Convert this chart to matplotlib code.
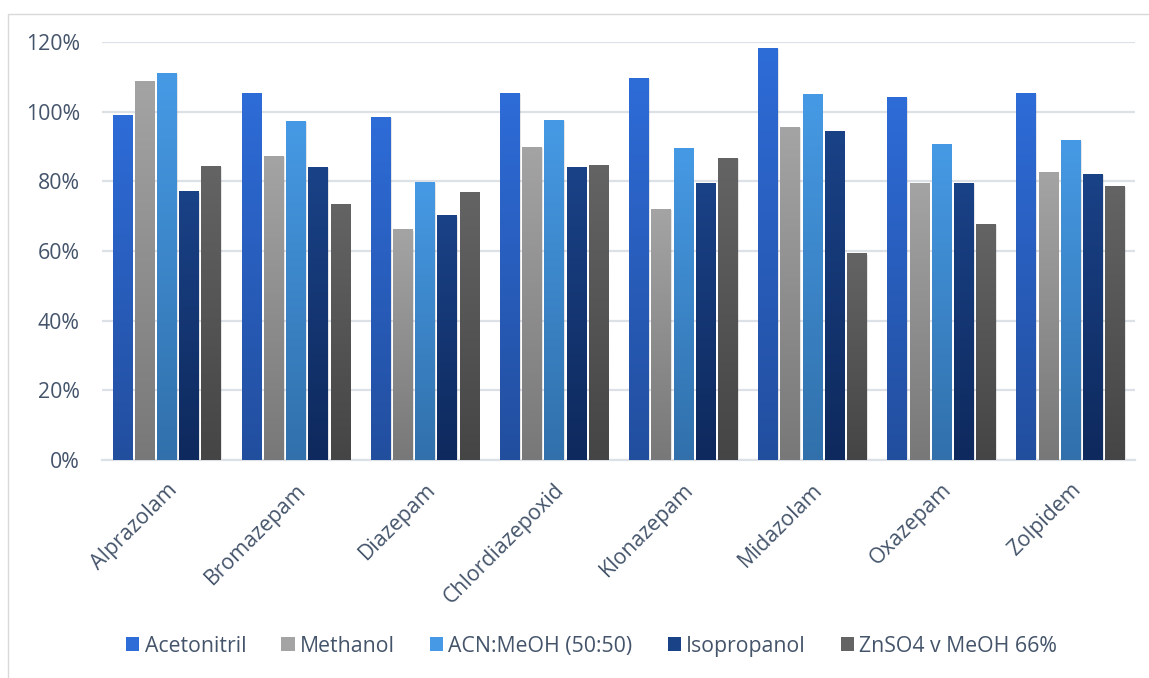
import numpy as np
import matplotlib
matplotlib.use("Agg")
import matplotlib.pyplot as plt
from matplotlib.patches import Rectangle
from matplotlib.colors import LinearSegmentedColormap

categories = ["Alprazolam", "Bromazepam", "Diazepam", "Chlordiazepoxid",
              "Klonazepam", "Midazolam", "Oxazepam", "Zolpidem"]
series_names = ["Acetonitril", "Methanol", "ACN:MeOH (50:50)", "Isopropanol",
                "ZnSO4 v MeOH 66%"]
acetonitril = [99, 105.5, 98.5, 105.5, 109.7, 118.3, 104.3, 105.5]
methanol = [108.8, 87.3, 66.2, 90.0, 72.1, 95.6, 79.6, 82.7]
acn_meoh = [111.1, 97.4, 79.9, 97.6, 89.6, 105.1, 90.7, 91.9]
isopropanol = [77.2, 84.1, 70.3, 84.1, 79.6, 94.5, 79.6, 82.1]
znso4 = [84.4, 73.5, 77.0, 84.7, 86.7, 59.4, 67.8, 78.7]
values = [acetonitril, methanol, acn_meoh, isopropanol, znso4]
yticks = [0, 20, 40, 60, 80, 100, 120]

# (top colour, bottom colour) for each series gradient
grad = [("#2E6CD8", "#224E9E"),
        ("#A4A4A4", "#787878"),
        ("#469AE5", "#3170AB"),
        ("#1A4287", "#0E295D"),
        ("#646464", "#454545")]

plt.rcParams['font.family'] = ['Open Sans', 'DejaVu Sans']
text_col = "#44546A"
fs = 15.3

fig = plt.figure(figsize=(11.49, 6.78), dpi=100)
ax = fig.add_axes([0.0888, 0.3215, 0.899, 0.6165])

n = len(series_names)
slot = 0.172
width = 0.148
x = np.arange(len(categories))

for i, (name, vals) in enumerate(zip(series_names, values)):
    offs = (i - (n - 1) / 2) * slot
    cmap = LinearSegmentedColormap.from_list(name, [grad[i][1], grad[i][0]])
    bars = ax.bar(x + offs, vals, width, color=grad[i][0], label=name, zorder=3,
                  linewidth=0)
    for b, v in zip(bars, vals):
        bx = b.get_x()
        # soft drop shadow
        ax.add_patch(Rectangle((bx + 0.012, -0.6), width, v + 0.2,
                               facecolor="#000000", alpha=0.10, linewidth=0,
                               zorder=2))
        grad_img = np.linspace(0, 1, 256).reshape(-1, 1)
        im = ax.imshow(grad_img, cmap=cmap, aspect="auto", origin="lower",
                       extent=(bx, bx + width, 0, v), zorder=3.5,
                       interpolation="bilinear")
        im.set_clip_path(b)

ax.set_xlim(-0.5, len(categories) - 0.5)
ax.set_ylim(0, 120)
ax.set_yticks(yticks)
ax.set_yticklabels([f"{t}%" for t in yticks], fontsize=fs, color=text_col)
ax.set_xticks(x)
ax.set_xticklabels(categories, rotation=45, ha="right", rotation_mode="anchor",
                   fontsize=fs, color=text_col)
ax.tick_params(axis="both", length=0)
ax.tick_params(axis="y", pad=16)
ax.tick_params(axis="x", pad=14)
ax.grid(axis="y", color="#DCE1E8", linewidth=1.6, zorder=0)
for s in ["top", "right", "left"]:
    ax.spines[s].set_visible(False)
ax.spines["bottom"].set_color("#DCE1E8")
ax.spines["bottom"].set_linewidth(1.6)

handles, labels = ax.get_legend_handles_labels()
leg = fig.legend(handles, labels, loc="center", bbox_to_anchor=(0.515, 0.047),
                 ncol=5, frameon=False, fontsize=fs, handlelength=0.62,
                 handleheight=0.62, handletextpad=0.25, columnspacing=1.65)
for t in leg.get_texts():
    t.set_color(text_col)

# outer chart frame
fig.patches.append(Rectangle((0.007, -0.01), 1.1, 0.99, transform=fig.transFigure,
                             fill=False, edgecolor="#D9D9D9", linewidth=1.0))

fig.savefig("out.png", dpi=100)
